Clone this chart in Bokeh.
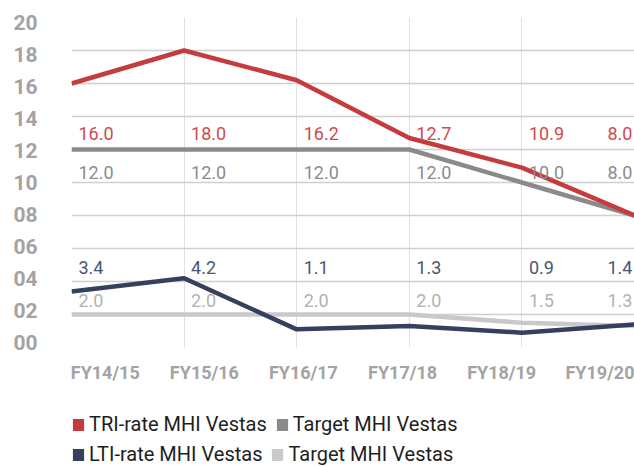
from bokeh.plotting import figure
from bokeh.layouts import column
from bokeh.models import FixedTicker, Legend, LegendItem, ColumnDataSource, Range1d
from bokeh.core.properties import value
from bokeh.embed import file_html
from bokeh.resources import INLINE

categories = ["FY14/15", "FY15/16", "FY16/17", "FY17/18", "FY18/19", "FY19/20"]
tri_rate = [16.0, 18.0, 16.2, 12.7, 10.9, 8.0]
tri_target = [12.0, 12.0, 12.0, 12.0, 10.0, 8.0]
lti_rate = [3.4, 4.2, 1.1, 1.3, 0.9, 1.4]
lti_target = [2.0, 2.0, 2.0, 2.0, 1.5, 1.3]
y_ticks = [0, 2, 4, 6, 8, 10, 12, 14, 16, 18, 20]
y_tick_labels = ["00", "02", "04", "06", "08", "10", "12", "14", "16", "18", "20"]
legend_labels = ["TRI-rate MHI Vestas", "Target MHI Vestas", "LTI-rate MHI Vestas", "Target MHI Vestas"]

RED = "#c43c3d"
RED_TXT = "#d04a4d"
DGRAY = "#8a8a8a"
DGRAY_TXT = "#8c8c8c"
NAVY = "#35405e"
NAVY_TXT = "#4a5572"
LGRAY = "#c9c9c9"
LGRAY_TXT = "#b2b2b2"
FONT = "Roboto"
NAN = float("nan")

xs = list(range(len(categories)))

p = figure(width=634, height=385, output_backend="svg", toolbar_location=None,
           x_range=Range1d(0, 5), y_range=Range1d(0, 20),
           min_border_left=71, min_border_right=0, min_border_top=17, min_border_bottom=38)
p.outline_line_color = None
p.background_fill_color = "white"

# grids
p.ygrid.ticker = FixedTicker(ticks=y_ticks)
p.ygrid.grid_line_color = "#cfcfcf"
p.ygrid.grid_line_width = 1.5
p.xgrid.ticker = FixedTicker(ticks=xs)
p.xgrid.grid_line_color = "#e0e0e0"
p.xgrid.grid_line_width = 1

# y axis: the printed labels sit on a slightly compressed scale relative to the grid
ylab_pos = [0.33 + 0.9685 * t for t in y_ticks]
p.yaxis.ticker = FixedTicker(ticks=ylab_pos)
p.yaxis.major_label_overrides = {pos: l for pos, l in zip(ylab_pos, y_tick_labels)}
p.yaxis.axis_line_color = None
p.yaxis.major_tick_line_color = None
p.yaxis.minor_tick_line_color = None
p.yaxis.major_label_standoff = 28
p.yaxis.major_label_text_font = FONT
p.yaxis.major_label_text_font_style = "bold"
p.yaxis.major_label_text_font_size = "21px"
p.yaxis.major_label_text_color = "#a3a3a3"

# x axis: labels are spread slightly narrower than the data points
label_pos = [0.3 + 0.88 * i for i in xs]
p.xaxis.ticker = FixedTicker(ticks=label_pos)
p.xaxis.major_label_overrides = {pos: c for pos, c in zip(label_pos, categories)}
p.xaxis.axis_line_color = None
p.xaxis.major_tick_line_color = None
p.xaxis.minor_tick_line_color = None
p.xaxis.major_label_standoff = 8
p.xaxis.major_label_text_font = FONT
p.xaxis.major_label_text_font_style = "bold"
p.xaxis.major_label_text_font_size = "18px"
p.xaxis.major_label_text_color = "#a3a3a3"

# lines
p.line(xs, tri_target, line_color=DGRAY, line_width=4.5)
p.line(xs, tri_rate, line_color=RED, line_width=4.5)
p.line(xs, lti_target, line_color=LGRAY, line_width=4.5)
p.line(xs, lti_rate, line_color=NAVY, line_width=4.5)

# value labels (fixed rows)
offsets = [7 if i < len(xs) - 1 else -27 for i in xs]
rows = [(tri_rate, 12.97, RED_TXT), (tri_target, 10.62, DGRAY_TXT),
        (lti_rate, 4.87, NAVY_TXT), (lti_target, 2.85, LGRAY_TXT)]
for vals, ypos, col in rows:
    src = ColumnDataSource(dict(x=xs, y=[ypos] * len(xs), t=[f"{v:.1f}" for v in vals], off=offsets))
    p.text(x="x", y="y", text="t", x_offset="off", source=src, text_align="left",
           text_baseline="middle", text_color=col, text_font=value(FONT), text_font_size="18px")

# legend strip below the chart
lf = figure(width=634, height=81, output_backend="svg", toolbar_location=None,
            x_range=Range1d(0, 1), y_range=Range1d(0, 1), y_axis_location=None,
            min_border_left=0, min_border_right=0, min_border_top=0, min_border_bottom=0)
lf.xaxis.visible = False
lf.grid.visible = False
lf.outline_line_color = None

colors = [RED, DGRAY, NAVY, LGRAY]
sw = [lf.quad(left=[NAN], right=[NAN], top=[NAN], bottom=[NAN], fill_color=c, line_color=None)
      for c in colors]

def make_legend(idx, loc):
    lg = Legend(items=[LegendItem(label=legend_labels[i], renderers=[sw[i]]) for i in idx],
                location=loc, orientation="horizontal")
    lg.glyph_width = 14
    lg.glyph_height = 15
    lg.label_standoff = 4
    lg.spacing = 8
    lg.padding = 0
    lg.margin = 0
    lg.border_line_color = None
    lg.background_fill_alpha = 0
    lg.label_text_font = FONT
    lg.label_text_font_size = "20px"
    lg.label_text_color = "#1e1e1e"
    return lg

lf.add_layout(make_legend([0, 1], (0, 30)))
lf.add_layout(make_legend([2, 3], (0, 0)))

open("out.html", "w").write(file_html(column(p, lf), INLINE))
